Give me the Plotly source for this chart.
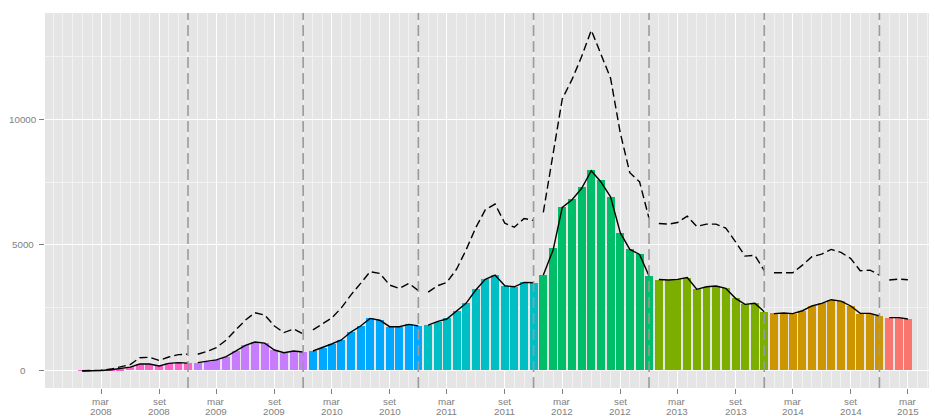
import pandas as pd
import plotly.graph_objects as go

# Monthly series, Jan 2008 - Mar 2015
years = [2008, 2009, 2010, 2011, 2012, 2013, 2014, 2015]

bar_values = {
    2008: [-20, -15, 5, 30, 70, 120, 250, 250, 175, 280, 305, 280],
    2009: [300, 345, 410, 545, 770, 995, 1115, 1075, 810, 700, 770, 740],
    2010: [770, 900, 1045, 1205, 1525, 1765, 2070, 2005, 1740, 1740, 1830, 1765],
    2011: [1805, 1940, 2070, 2375, 2670, 3240, 3625, 3800, 3360, 3330, 3520, 3490],
    2012: [3800, 4875, 6495, 6825, 7305, 7980, 7585, 6905, 5470, 4835, 4635, 3760],
    2013: [3600, 3600, 3625, 3690, 3240, 3305, 3360, 3280, 2895, 2645, 2670, 2335],
    2014: [2270, 2245, 2245, 2375, 2565, 2670, 2800, 2750, 2565, 2245, 2245, 2165],
    2015: [2100, 2070, 2045],
}

solid_values = {
    2008: [-25, -25, -10, 25, 70, 125, 250, 250, 175, 275, 305, 285],
    2009: [305, 350, 415, 545, 770, 995, 1130, 1085, 810, 700, 770, 730],
    2010: [770, 905, 1050, 1210, 1525, 1765, 2070, 1995, 1740, 1740, 1830, 1770],
    2011: [1805, 1950, 2045, 2375, 2670, 3200, 3625, 3800, 3370, 3330, 3505, 3490],
    2012: [3800, 4800, 6495, 6800, 7250, 7960, 7520, 6920, 5480, 4820, 4620, 3760],
    2013: [3620, 3600, 3625, 3700, 3230, 3330, 3360, 3270, 2870, 2630, 2670, 2335],
    2014: [2260, 2285, 2260, 2375, 2565, 2670, 2815, 2760, 2565, 2270, 2270, 2165],
    2015: [2100, 2100, 2045],
}

dashed_values = {
    2008: [-20, -20, 5, 50, 130, 230, 500, 520, 395, 530, 625, 645],
    2009: [640, 760, 905, 1205, 1605, 2000, 2295, 2205, 1765, 1505, 1645, 1445],
    2010: [1615, 1845, 2080, 2490, 3000, 3465, 3930, 3865, 3400, 3265, 3465, 3175],
    2011: [3115, 3380, 3505, 4030, 4795, 5690, 6400, 6630, 5865, 5705, 6055, 5975],
    2012: [6300, 8620, 10820, 11600, 12500, 13560, 12620, 11650, 9450, 7880, 7515, 6055],
    2013: [5855, 5830, 5895, 6150, 5735, 5830, 5830, 5670, 5125, 4555, 4585, 3975],
    2014: [3890, 3890, 3890, 4195, 4530, 4635, 4820, 4700, 4460, 3970, 3995, 3800],
    2015: [3600, 3640, 3610],
}

year_colors = {
    2008: "#FF61CC", 2009: "#C77CFF", 2010: "#00A9FF", 2011: "#00BFC4",
    2012: "#00BE67", 2013: "#7CAE00", 2014: "#CD9600", 2015: "#F8766D",
}

# December marks separating the years
year_breaks = ["2008-12-01", "2009-12-01", "2010-12-01", "2011-12-01",
               "2012-12-01", "2013-12-01", "2014-12-01"]

tick_dates = ["2008-03-01", "2008-09-01", "2009-03-01", "2009-09-01",
              "2010-03-01", "2010-09-01", "2011-03-01", "2011-09-01",
              "2012-03-01", "2012-09-01", "2013-03-01", "2013-09-01",
              "2014-03-01", "2014-09-01", "2015-03-01"]
tick_months = ["mar", "set", "mar", "set", "mar", "set", "mar", "set",
               "mar", "set", "mar", "set", "mar", "set", "mar"]
tick_years = ["2008", "2008", "2009", "2009", "2010", "2010", "2011", "2011",
              "2012", "2012", "2013", "2013", "2014", "2014", "2015"]

y_ticks = [0, 5000, 10000]
y_tick_labels = ["0", "5000", "10000"]

DAY_MS = 86400000
bar_width = 25.2 * DAY_MS
LABEL_FONT = dict(family="Liberation Sans, Arial, sans-serif", size=9.8, color="#7F7F7F")

fig = go.Figure()

def months_of(year, n):
    return pd.date_range(f"{year}-01-01", periods=n, freq="MS")

for yr in years:
    x = months_of(yr, len(bar_values[yr]))
    fig.add_trace(go.Bar(
        x=x, y=bar_values[yr], width=bar_width,
        marker=dict(color=year_colors[yr], line=dict(width=0)),
        showlegend=False, hoverinfo="x+y",
    ))

for yr in years:
    x = months_of(yr, len(solid_values[yr]))
    fig.add_trace(go.Scatter(
        x=x, y=dashed_values[yr], mode="lines",
        line=dict(color="black", width=1.4, dash="8px,4px"),
        showlegend=False,
    ))
    fig.add_trace(go.Scatter(
        x=x, y=solid_values[yr], mode="lines",
        line=dict(color="black", width=1.4),
        showlegend=False,
    ))

for d in year_breaks:
    fig.add_shape(type="line", x0=d, x1=d, y0=0, y1=1, yref="y domain",
                  line=dict(color="#9A9A9A", width=1.6, dash="11px,5px"),
                  layer="above")

# Two-line date labels under the x axis
for d, m, y in zip(tick_dates, tick_months, tick_years):
    fig.add_annotation(x=d, xref="x", y=0, yref="paper", yshift=-13,
                       text=m, showarrow=False, xanchor="center",
                       yanchor="middle", font=LABEL_FONT)
    fig.add_annotation(x=d, xref="x", y=0, yref="paper", yshift=-23.5,
                       text=y, showarrow=False, xanchor="center",
                       yanchor="middle", font=LABEL_FONT)

# Centred value labels left of the y axis
for v, t in zip(y_ticks, y_tick_labels):
    fig.add_annotation(x=0, xref="paper", xshift=-22.5, y=v, yref="y",
                       text=t, showarrow=False, xanchor="center",
                       yanchor="middle", font=LABEL_FONT)

minor_months = pd.date_range("2007-09-01", "2015-06-01", freq="MS")

fig.update_layout(
    width=935, height=416,
    margin=dict(l=45, r=6, t=13, b=28),
    paper_bgcolor="white", plot_bgcolor="#E5E5E5",
    barmode="overlay", bargap=0,
    font=LABEL_FONT,
    xaxis=dict(
        type="date", automargin=False,
        range=["2007-09-05", "2015-05-07"],
        tickvals=tick_dates, showticklabels=False,
        ticks="outside", ticklen=5, tickcolor="#7F7F7F", tickwidth=1,
        showgrid=True, gridcolor="white", gridwidth=1,
        minor=dict(tickvals=list(minor_months), showgrid=True,
                   gridcolor="#F2F2F2", gridwidth=0.8, ticks=""),
        zeroline=False, showline=False,
    ),
    yaxis=dict(
        automargin=False,
        range=[-705, 14247],
        tickvals=y_ticks, showticklabels=False,
        ticks="outside", ticklen=5, tickcolor="#7F7F7F", tickwidth=1,
        showgrid=True, gridcolor="white", gridwidth=1,
        minor=dict(tickvals=[2500, 7500, 12500], showgrid=True,
                   gridcolor="#F2F2F2", gridwidth=0.8, ticks=""),
        zeroline=False, showline=False,
    ),
)

fig.write_html("out.html")
